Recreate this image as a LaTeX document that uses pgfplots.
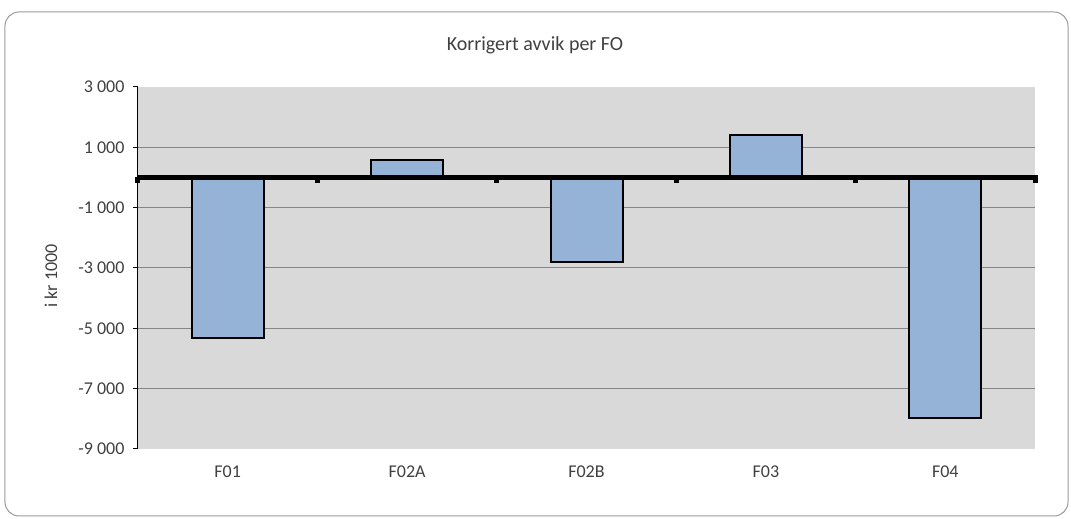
\documentclass[border=0pt]{standalone}
\usepackage{fontspec}
\setmainfont{Carlito}
\usepackage{pgfplots}
\pgfplotsset{compat=1.18}
\definecolor{plotbg}{HTML}{D9D9D9}
\definecolor{barblue}{HTML}{95B3D7}
\definecolor{gridgray}{HTML}{868686}
\definecolor{txt}{HTML}{404040}
\begin{document}
\begin{tikzpicture}[x=1pt,y=1pt]
\useasboundingbox (-138,-70) rectangle (933,449);
\draw[black!40, line width=1pt, rounded corners=14pt] (-133,-67) rectangle (930,437);
\node[font=\fontsize{20}{24}\selectfont, text=txt] at (397,404) {Korrigert avvik per FO};
\node[font=\fontsize{18}{20}\selectfont, text=txt, rotate=90] at (-87,173) {i kr 1000};
\begin{axis}[
  at={(0,0)}, anchor=south west,
  scale only axis, width=897pt, height=362pt,
  xmin=-0.5, xmax=4.5, ymin=-9000, ymax=3000,
  axis background/.style={fill=plotbg},
  axis x line*=bottom, axis y line*=left,
  x axis line style={draw=none},
  y axis line style={black, line width=1pt},
  xtick={0,1,2,3,4},
  xticklabels={F01,F02A,F02B,F03,F04},
  x tick style={draw=none},
  ytick={-9000,-7000,-5000,-3000,-1000,1000,3000},
  y tick style={black, line width=1pt},
  tick align=outside, major tick length=5pt,
  extra y ticks={-7000,-5000,-3000,-1000,1000},
  extra y tick labels={},
  extra y tick style={grid=major, major grid style={gridgray, line width=1pt}, major tick length=0pt},
  ticklabel style={font=\fontsize{18}{20}\selectfont, text=txt},
  yticklabel style={xshift=-5pt},
  xticklabel style={yshift=-8pt},
  /pgf/number format/assume math mode=true,
  /pgf/number format/1000 sep={\ },
  ybar, bar width=72pt,
  clip=false,
]
\addplot[fill=barblue, draw=black, line width=2pt] coordinates {
  (0,-5330) (1,580) (2,-2800) (3,1410) (4,-7960)
};
\draw[black, line width=4.5pt] (axis cs:-0.5,0) -- ([xshift=3pt]axis cs:4.5,0);
\pgfplotsinvokeforeach{-0.5,0.5,1.5,2.5,3.5,4.5}{
  \fill[black] ([xshift=-2.5pt]axis cs:#1,0) rectangle ([xshift=2.5pt,yshift=-5.5pt]axis cs:#1,0);
}
\end{axis}
\end{tikzpicture}
\end{document}
